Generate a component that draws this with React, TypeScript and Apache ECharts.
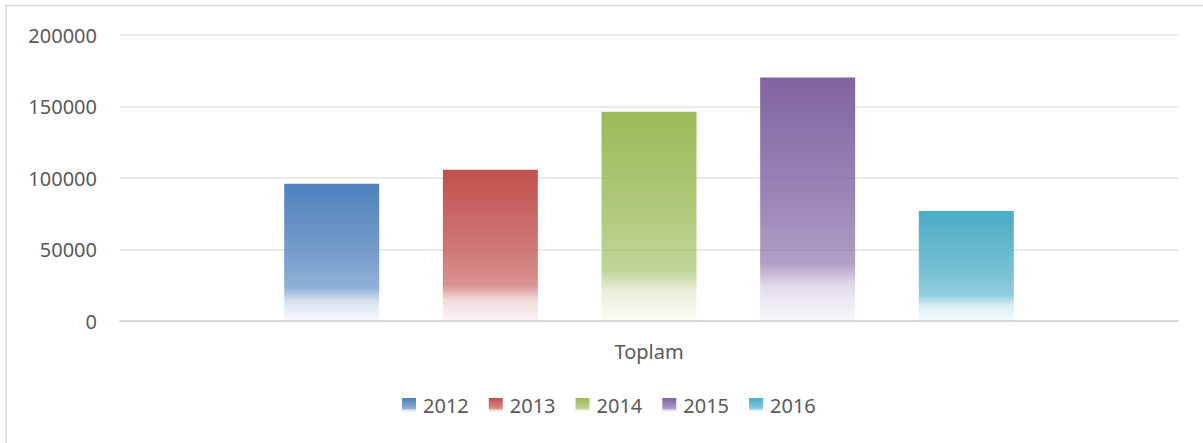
import React, { useEffect, useRef } from "react";
import * as echarts from "echarts";

const categories = ["Toplam"];
const seriesNames = ["2012", "2013", "2014", "2015", "2016"];
const seriesValues = [96000, 105800, 146400, 170200, 77000];
const seriesColors = ["#4F81BD", "#C0504D", "#9BBB59", "#8064A2", "#4BACC6"];
const yTicks = { min: 0, max: 200000, interval: 50000 };

function rgba(hex: string, a: number) {
  const r = parseInt(hex.slice(1, 3), 16);
  const g = parseInt(hex.slice(3, 5), 16);
  const b = parseInt(hex.slice(5, 7), 16);
  return `rgba(${r},${g},${b},${a})`;
}

function grad(hex: string) {
  return new echarts.graphic.LinearGradient(0, 0, 0, 1, [
    { offset: 0, color: rgba(hex, 1) },
    { offset: 0.5, color: rgba(hex, 0.78) },
    { offset: 0.76, color: rgba(hex, 0.62) },
    { offset: 0.86, color: rgba(hex, 0.22) },
    { offset: 1, color: rgba(hex, 0.05) },
  ]);
}

export default function App() {
  const ref = useRef<HTMLDivElement>(null);
  useEffect(() => {
    document.body.style.margin = "0";
    const chart = echarts.init(ref.current!, null, { renderer: "svg" });
    const font = "'Noto Sans', 'Open Sans', sans-serif";
    chart.setOption({
      animation: false,
      backgroundColor: "#ffffff",
      textStyle: { fontFamily: font },
      graphic: [
        {
          type: "rect",
          shape: { x: 6, y: 5.5, width: 1400, height: 600 },
          style: { fill: "none", stroke: "#d9d9d9", lineWidth: 1.5 },
          silent: true,
        },
      ],
      grid: { left: 120, right: 25, top: 35, bottom: 122, containLabel: false },
      legend: {
        data: seriesNames,
        left: 397,
        top: 390,
        itemWidth: 14,
        itemHeight: 14,
        itemGap: 20,
        icon: "rect",
        textStyle: { fontSize: 20, color: "#595959", fontFamily: font, padding: [0, 0, 0, 2] },
      },
      xAxis: {
        type: "category",
        data: categories,
        axisLine: { lineStyle: { color: "#d9d9d9", width: 2 } },
        axisTick: { show: false },
        axisLabel: { fontSize: 20, color: "#595959", margin: 20, fontFamily: font },
      },
      yAxis: {
        type: "value",
        min: yTicks.min,
        max: yTicks.max,
        interval: yTicks.interval,
        axisLine: { show: false },
        axisTick: { show: false },
        axisLabel: {
          fontSize: 20,
          color: "#595959",
          margin: 23,
          fontFamily: font,
          formatter: (v: number) => String(v),
        },
        splitLine: { lineStyle: { color: "#e3e3e3", width: 1.5 } },
      },
      series: seriesNames.map((name, i) => ({
        name,
        type: "bar",
        data: [seriesValues[i]],
        barWidth: 95,
        barGap: "67%",
        itemStyle: { color: grad(seriesColors[i]) },
      })),
    });
    return () => chart.dispose();
  }, []);
  return <div ref={ref} style={{ width: 1203, height: 443 }} />;
}
